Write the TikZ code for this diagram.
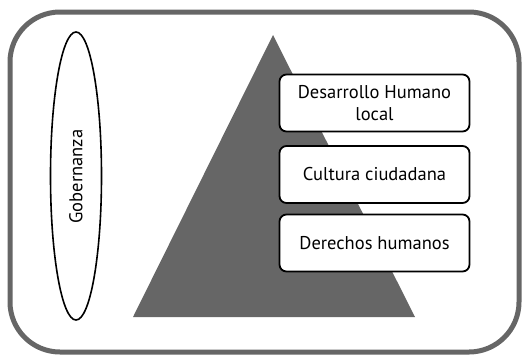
\documentclass[tikz,border=0pt]{standalone}
\usepackage{fontspec}
\setmainfont{PT Sans}
\usetikzlibrary{shapes.geometric}
\definecolor{dgray}{HTML}{666666}
\begin{document}
\begin{tikzpicture}[x=1pt,y=-1pt,
  labelbox/.style={draw=black, line width=1.8pt, rounded corners=7pt, fill=white,
    minimum width=190pt, minimum height=57pt, align=center, font=\fontsize{18.5}{22}\selectfont, inner sep=0pt},
  gov/.style={draw=black, line width=1.6pt, ellipse, minimum width=51pt, minimum height=288pt, inner sep=0pt}
]
\useasboundingbox (0,0) rectangle (527,357);
\draw[dgray, line width=5pt, rounded corners=50pt] (10,12) rectangle (519,352);
\node[gov] (g) at (76,176) {};
\node[rotate=90, font=\fontsize{18.5}{22}\selectfont] (gt) at (76,176.5) {Gobernanza};
\fill[dgray] (273,35) -- (415,317) -- (133,317) -- cycle;
\node[labelbox] (b1) at (374.5,103) {Desarrollo Humano\\local};
\node[labelbox] (b2) at (374.5,174.5) {Cultura ciudadana};
\node[labelbox] (b3) at (374.5,243) {Derechos humanos};
\end{tikzpicture}
\end{document}
